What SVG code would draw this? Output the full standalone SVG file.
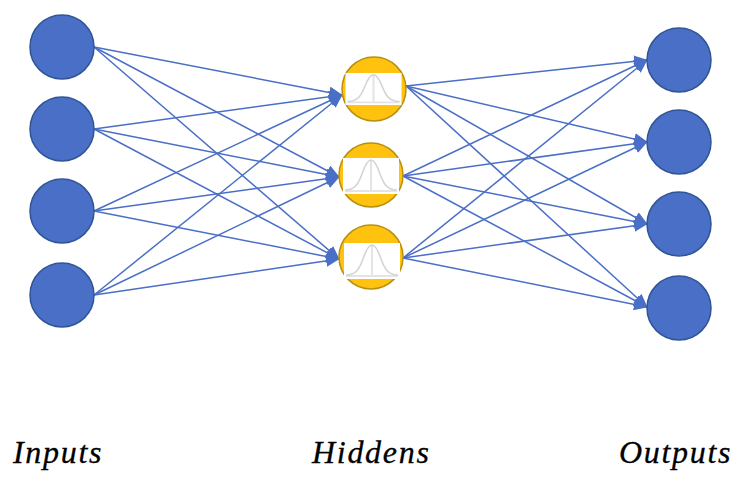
<svg xmlns="http://www.w3.org/2000/svg" width="747" height="486" viewBox="0 0 747 486">
<style>
.in{fill:#4a6fc6;stroke:#2f5597;stroke-width:1.5}
.hid{fill:#ffc20e;stroke:#b8900f;stroke-width:1.5}
.box{fill:#fff}
.axis{fill:none;stroke:#e4e4e4;stroke-width:2}
.curve{fill:none;stroke:#d4d4d4;stroke-width:1.6}
.c line{stroke:#4a6fc6;stroke-width:1.5;marker-end:url(#a)}
text{font-family:"Liberation Serif",serif;font-style:italic;font-size:32px;fill:#000;stroke:#000;stroke-width:.3;letter-spacing:1.7px}
</style>
<defs>
<marker id="a" markerUnits="userSpaceOnUse" markerWidth="15" markerHeight="13" refX="13" refY="6" orient="auto"><path d="M0 0L14 6L0 12z" fill="#4a6fc6"/></marker>
<g id="g">
<rect class="box" x="-28" y="-18" width="56" height="36"/>
<path class="axis" d="M-26 15H26M0 -16V15"/>
<path class="curve" d="M-26 14C-15 14 -12 6 -9 -2C-6 -11 -3 -16 0 -16C3 -16 6 -11 9 -2C12 6 15 14 26 14"/>
</g>
</defs>
<g id="connectors" class="c">
<line x1="94" y1="47" x2="342" y2="95"/>
<line x1="94" y1="47" x2="339" y2="177"/>
<line x1="94" y1="47" x2="339" y2="259"/>
<line x1="94" y1="129" x2="342" y2="95"/>
<line x1="94" y1="129" x2="339" y2="177"/>
<line x1="94" y1="129" x2="339" y2="259"/>
<line x1="94" y1="211" x2="342" y2="95"/>
<line x1="94" y1="211" x2="339" y2="177"/>
<line x1="94" y1="211" x2="339" y2="259"/>
<line x1="94" y1="295" x2="342" y2="95"/>
<line x1="94" y1="295" x2="339" y2="177"/>
<line x1="94" y1="295" x2="339" y2="259"/>
<line x1="406" y1="86" x2="647" y2="60"/>
<line x1="406" y1="86" x2="647" y2="142"/>
<line x1="406" y1="86" x2="647" y2="224"/>
<line x1="406" y1="86" x2="647" y2="307"/>
<line x1="403" y1="176" x2="647" y2="60"/>
<line x1="403" y1="176" x2="647" y2="142"/>
<line x1="403" y1="176" x2="647" y2="224"/>
<line x1="403" y1="176" x2="647" y2="307"/>
<line x1="403" y1="258" x2="647" y2="60"/>
<line x1="403" y1="258" x2="647" y2="142"/>
<line x1="403" y1="258" x2="647" y2="224"/>
<line x1="403" y1="258" x2="647" y2="307"/>
</g>
<g id="input1"><circle class="in" cx="62" cy="47" r="32"/></g>
<g id="input2"><circle class="in" cx="62" cy="129" r="32"/></g>
<g id="input3"><circle class="in" cx="62" cy="211" r="32"/></g>
<g id="input4"><circle class="in" cx="62" cy="295" r="32"/></g>
<g id="hidden1"><circle class="hid" cx="374" cy="89" r="32"/><use href="#g" transform="translate(373.500 89) scale(1 .89)"/></g>
<g id="hidden2"><circle class="hid" cx="371" cy="175" r="32"/><use href="#g" x="371" y="176"/></g>
<g id="hidden3"><circle class="hid" cx="371" cy="257" r="32"/><use href="#g" x="372" y="261"/></g>
<g id="output1"><circle class="in" cx="679" cy="60" r="32"/></g>
<g id="output2"><circle class="in" cx="679" cy="142" r="32"/></g>
<g id="output3"><circle class="in" cx="679" cy="224" r="32"/></g>
<g id="output4"><circle class="in" cx="679" cy="308" r="32"/></g>
<g id="labels">
<text x="13" y="463">Inputs</text>
<text x="312" y="463">Hiddens</text>
<text x="619" y="463">Outputs</text>
</g>
</svg>
